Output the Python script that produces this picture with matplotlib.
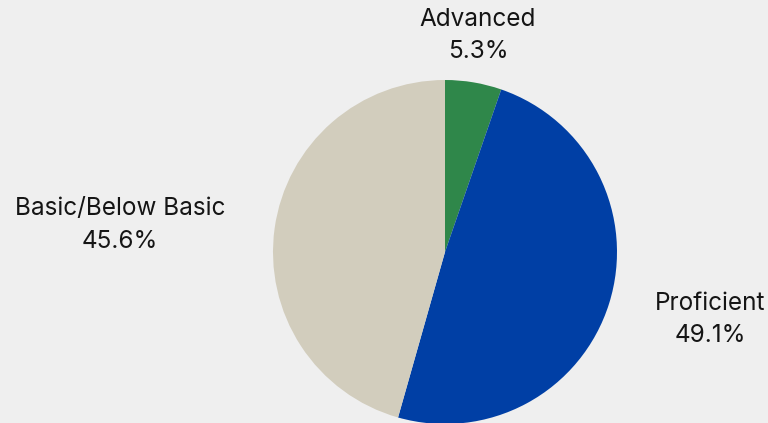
import matplotlib.pyplot as plt

categories = ["Advanced", "Proficient", "Basic/Below Basic"]
shares = [5.3, 49.1, 45.6]
colors = ["#2f874a", "#003fa5", "#d2cdbd"]

plt.rcParams['font.family'] = ['Inter', 'DejaVu Sans']

fig = plt.figure(figsize=(7.68, 4.23), dpi=100, facecolor="#efefef")
ax = fig.add_axes([0, 0, 1, 1])
ax.set_facecolor("#efefef")

# pixel-based view: pie centre at (445, 252), radius 172 px
r = 172.0
cx, cy = 445.0, 252.0

ax.pie(shares, colors=colors, startangle=90, counterclock=False,
       radius=1.0, center=(0, 0), frame=True,
       wedgeprops=dict(linewidth=0))
ax.set_xlim(-cx / r, (768 - cx) / r)
ax.set_ylim(-(423 - cy) / r, cy / r)
ax.axis("off")

# label centres in pixels
label_px = [(478, 36), (710, 319), (120, 225)]
for name, val, (px, py) in zip(categories, shares, label_px):
    ax.text((px - cx) / r, (cy - py) / r, f"{name}\n{val:.1f}%",
            ha="center", va="center", fontsize=17.5, color="#151515",
            linespacing=1.5)

fig.savefig("out.png", dpi=100, facecolor=fig.get_facecolor())
